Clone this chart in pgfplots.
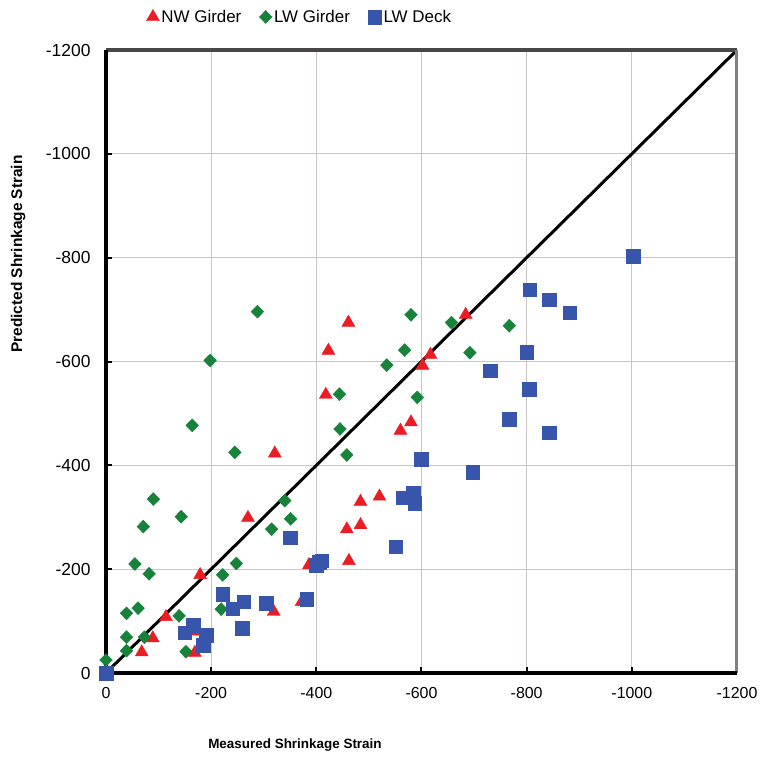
\documentclass[border=0pt]{standalone}
\usepackage{fontspec}
\setmainfont{Liberation Sans}
\usepackage{pgfplots}
\pgfplotsset{compat=1.18}
\definecolor{nwred}{RGB}{236,28,36}
\definecolor{lwgreen}{RGB}{22,130,58}
\definecolor{deckblue}{RGB}{55,85,170}
\definecolor{gridc}{RGB}{205,196,196}
\begin{document}
\begin{tikzpicture}
\path[use as bounding box] (0,0) rectangle (766bp,760bp);
\begin{axis}[
  at={(106bp,87bp)}, anchor=south west,
  scale only axis, width=631bp, height=623bp,
  xmin=-1200, xmax=0, ymin=-1200, ymax=0,
  x dir=reverse, y dir=reverse,
  xtick={-1200,-1000,...,0}, ytick={-1200,-1000,...,0},
  grid=major, major grid style={gridc, line width=1.2bp},
  axis line style={draw=none},
  tick style={black, line width=2bp}, major tick length=6bp,
  tick align=inside,
  xtick pos=left, ytick pos=left,
  /pgf/number format/assume math mode=true,
  /pgf/number format/1000 sep={},
  xticklabel style={font=\fontsize{16}{16}\selectfont, yshift=-11bp},
  yticklabel style={font=\fontsize{17.5}{17}\selectfont, xshift=-12bp},
  clip=false,
  legend style={at={(axis description cs:0.307,1.053)}, anchor=center, draw=none, fill=none,
    font=\fontsize{17}{17}\selectfont, /tikz/every even column/.append style={column sep=16bp}},
  legend columns=3, legend cell align=left,
  legend image code/.code={\draw[mark repeat=2,mark phase=2,#1] plot coordinates {(0bp,0bp)(7bp,0bp)(14bp,0bp)};},
]
\addplot[black, line width=3bp, forget plot] coordinates {(0,0) (-1200,-1200)};
\addplot[only marks, mark=triangle*, mark size=7.5bp, color=nwred] coordinates {
(-68,-40) (-89,-67) (-114,-108) (-179,-189) (-169,-39) (-174,-80) (-270,-299)
(-319,-118) (-321,-423) (-372,-137) (-386,-208) (-458,-277) (-462,-216) (-484,-285)
(-484,-330) (-520,-340) (-560,-467) (-580,-483) (-602,-592) (-617,-613) (-418,-536)
(-423,-621) (-461,-675) (-684,-690)};
\addlegendentry{NW Girder}
\addplot[only marks, mark=diamond*, mark size=6.5bp, mark options={xscale=1.3}, color=lwgreen] coordinates {
(0,-25) (-39,-43) (-39,-69) (-73,-69) (-39,-115) (-61,-125) (-55,-210) (-82,-191)
(-71,-282) (-90,-335) (-143,-301) (-139,-110) (-152,-41) (-164,-477) (-198,-602)
(-219,-123) (-222,-189) (-245,-425) (-248,-211) (-288,-696) (-315,-277) (-340,-332)
(-351,-297) (-444,-537) (-445,-470) (-458,-420) (-534,-593) (-568,-622) (-580,-690)
(-592,-531) (-657,-675) (-692,-617) (-767,-669)};
\addlegendentry{LW Girder}
\addplot[only marks, mark=square*, mark size=6.8bp, color=deckblue] coordinates {
(0,0) (-150,-78) (-166,-92) (-191,-73) (-185,-54) (-222,-152) (-241,-124) (-262,-137)
(-259,-86) (-305,-134) (-382,-142) (-350,-261) (-400,-208) (-405,-214) (-410,-216)
(-551,-243) (-564,-338) (-584,-346) (-587,-327) (-600,-412) (-697,-387) (-731,-582)
(-767,-489) (-800,-618) (-805,-547) (-806,-738) (-843,-719) (-843,-463) (-882,-694)
(-1003,-803)};
\addlegendentry{LW Deck}
\draw[black!72, line width=3bp] (axis description cs:0,1) -- (axis description cs:1,1);
\draw[black!50, line width=3bp] (axis description cs:1,1) -- (axis description cs:1,0);
\draw[black, line width=4bp] (axis description cs:0,1) -- (axis description cs:0,0) -- (axis description cs:1,0);
\node[font=\bfseries\fontsize{13.5}{14}\selectfont] at (axis description cs:0.2995,-0.1156) {Measured Shrinkage Strain};
\node[font=\bfseries\fontsize{15.5}{16}\selectfont, rotate=90] at (axis description cs:-0.139,0.6726) {Predicted Shrinkage Strain};
\end{axis}
\end{tikzpicture}
\end{document}
